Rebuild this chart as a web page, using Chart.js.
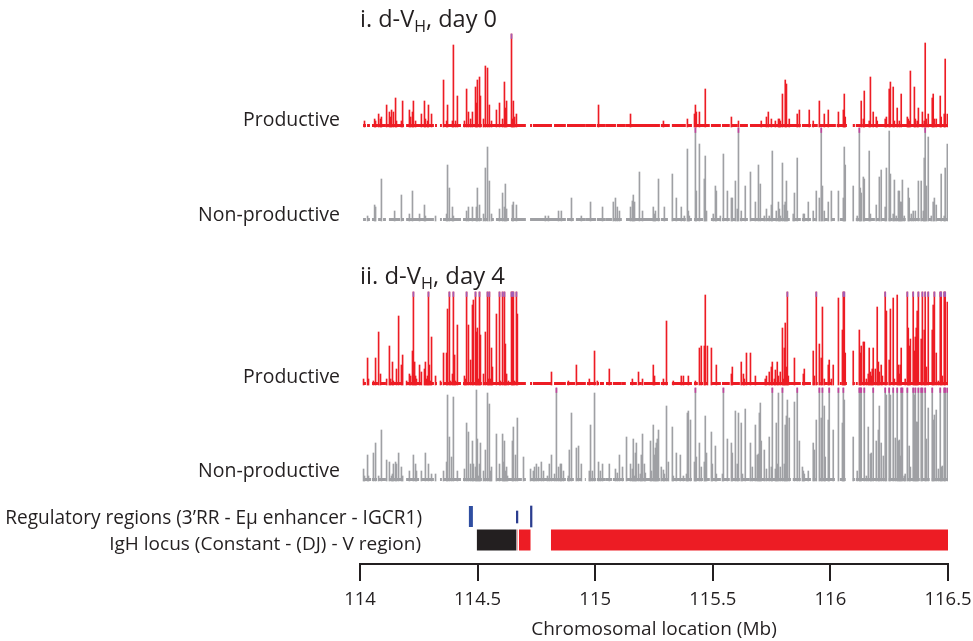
<!DOCTYPE html>
<html>
<head>
<meta charset="utf-8">
<script src="https://cdn.jsdelivr.net/npm/chart.js@4.4.1/dist/chart.umd.min.js"></script>
<style>
  html, body { margin: 0; padding: 0; background: #ffffff; }
  #wrap { position: relative; width: 973px; height: 641px; }
  canvas { display: block; }
</style>
</head>
<body>
<div id="wrap"><canvas id="chart" width="973" height="641"></canvas></div>
<script>
// ---------------- DATA ----------------
// Positions: start of each genomic bin, in kb after 114 Mb (bins of 4.25 kb)
// Values: relative read frequency (track full scale = 93; values >= 93 are off-scale)

const titles = ["i. d-V|H|, day 0", "ii. d-V|H|, day 4"];
const trackLabels = ["Productive", "Non-productive", "Productive", "Non-productive"];
const annotationLabels = ["Regulatory regions (3\u2019RR - E\u03bc enhancer - IGCR1)", "IgH locus (Constant - (DJ) - V region)"];
const axisTitle = "Chromosomal location (Mb)";
const xTicksMb = [114, 114.5, 115, 115.5, 116, 116.5];

// i. day 0, productive
const day0ProdKb = [17,60,64,77,85,89,111,123,128,132,
140,149,153,174,179,208,213,221,225,234,
259,272,276,285,289,302,353,366,370,391,
395,404,412,442,451,459,468,476,489,493,
497,506,510,523,531,540,548,557,578,591,
604,612,616,621,642,646,650,655,663,1012,
1148,
1288,1390,1420,1424,1428,1441,1466,1577,1607,
1704,1726,1734,1747,1764,1777,1781,1785,1794,1806,
1811,1823,1857,1866,1908,1925,1951,1972,1989,2032,
2053,2057,2061,2129,2138,2142,2163,2168,2180,2193,
2197,2231,2236,2248,2253,2265,2270,2282,2291,2299,
2325,2329,2333,2338,2355,2359,2367,2372,2389,2397,
2401,2406,2414,2431,2435,2440,2448,2465,2469,2482,
2486,2495];
const day0ProdVal = [6,8,6,13,8,10,22,15,10,17,
15,29,6,6,26,17,10,15,26,6,
13,26,8,6,22,13,47,6,22,6,
82,6,31,6,38,15,8,15,40,24,
47,50,31,8,61,59,22,6,17,24,
8,45,19,26,100,8,26,10,13,22,
13,
6,8,13,22,15,15,38,10,6,
6,10,15,8,6,8,8,6,33,47,
43,8,13,17,17,6,26,13,17,15,
17,33,10,26,8,36,6,50,15,10,
6,8,10,38,45,40,6,19,6,33,
10,8,6,56,40,8,6,19,15,6,
84,8,13,29,33,8,8,31,10,13,
68,13];

// i. day 0, non-productive
const day0NonKb = [30,60,64,89,145,174,208,221,251,272,
276,319,366,370,378,391,395,451,459,476,
493,497,506,523,531,540,548,557,591,604,
612,616,621,646,650,663,786,799,842,854,
897,939,978,1029,1075,1084,1092,1101,1148,1156,
1160,1165,1186,1199,1245,
1250,1254,1267,1292,1326,1343,1364,1377,1390,1394,
1398,1424,1428,1441,1462,1466,1471,1500,1509,1513,
1530,1543,1560,1577,1581,1594,1602,1607,1619,1636,
1658,1679,1692,1700,1717,1726,1738,1747,1751,1768,
1777,1781,1785,1794,1802,1806,1811,1815,1840,1845,
1857,1883,1887,1904,1925,1938,1951,1959,1964,1972,
1989,2002,2032,2053,2057,2061,2095,2112,2121,2125,
2129,2138,2142,2163,2168,2193,2206,2214,2231,2236,
2248,2253,2265,2270,2278,2287,2291,2295,2299,2304,
2312,2329,2333,2342,2350,2359,2372,2384,2393,2397,
2401,2406,2414,2427,2435,2440,2448,2469,2482,2486,
2495];
const day0NonVal = [5,16,14,42,10,26,7,30,7,16,
5,5,7,56,33,14,5,10,14,14,
14,33,16,7,53,74,40,7,12,28,
14,37,12,16,19,16,5,5,10,10,
23,5,19,14,19,23,14,10,14,20,
26,19,49,10,14,
7,10,42,14,47,23,14,5,72,10,
5,100,30,77,42,65,10,7,35,30,
5,67,30,23,23,40,12,100,10,35,
49,19,56,37,5,12,5,16,70,10,
19,12,5,58,16,19,40,10,7,28,
63,7,7,19,10,30,23,100,35,10,
19,30,30,23,74,56,35,5,100,33,
28,44,42,70,7,16,44,51,14,53,
90,47,7,41,5,30,30,19,19,41,
5,33,23,7,10,10,40,40,10,63,
100,35,84,5,19,23,16,47,5,53,
77];

// ii. day 4, productive
const day4ProdKb = [13,30,34,55,64,77,85,111,123,128,
136,140,153,162,174,179,196,208,213,221,
225,230,234,238,251,259,272,276,281,285,
289,293,298,302,319,340,353,366,370,378,
383,391,395,400,404,412,442,446,451,459,
468,476,480,489,493,497,502,506,510,523,
531,540,544,548,553,557,561,578,591,595,
604,612,616,621,629,642,646,650,655,663,
667,812,884,918,973,995,1007,1058,1156,1182,
1199,1245,
1250,1288,1301,1330,1364,1373,1394,1424,1441,1449,
1462,1466,1475,1492,1513,1577,1581,1619,1628,1632,
1641,1658,1679,1721,1726,1738,1747,1751,1760,1764,
1772,1777,1785,1794,1798,1802,1806,1811,1815,1819,
1845,1883,1887,1925,1930,1938,1951,1959,1964,1972,
1989,1993,2002,2010,2032,2049,2053,2057,2061,2095,
2121,2125,2129,2138,2142,2151,2159,2163,2168,2172,
2176,2180,2189,2197,2202,2206,2214,2219,2231,2236,
2248,2253,2265,2270,2282,2287,2291,2295,2299,2316,
2325,2329,2333,2338,2350,2355,2359,2363,2367,2372,
2384,2389,2397,2401,2406,2414,2431,2435,2440,2448,
2457,2465,2469,2474,2482,2486,2495];
const day4ProdVal = [6,27,6,4,27,53,11,6,39,6,
23,4,16,69,20,30,4,11,9,34,
100,23,9,6,20,13,16,23,6,9,
100,20,4,48,9,4,32,32,76,100,
4,11,100,30,4,60,9,6,100,60,
25,80,85,100,53,57,6,100,50,11,
53,100,6,100,6,37,18,71,100,4,
100,100,41,11,4,100,100,100,4,100,
71,13,4,20,6,34,4,16,6,13,
6,20,
9,6,64,4,9,9,9,4,37,39,
39,90,39,37,20,11,18,23,11,6,
32,32,9,6,9,13,18,23,6,15,
23,9,13,57,6,37,62,18,100,9,
27,11,16,34,9,100,41,27,78,6,
20,25,6,20,87,55,100,100,32,34,
55,32,39,43,43,6,11,37,13,9,
16,37,16,78,23,13,20,9,100,74,
25,76,87,6,90,20,11,20,37,6,
100,57,39,46,100,34,48,57,74,100,
46,100,55,100,18,100,55,80,100,32,
4,100,100,9,100,100,83];

// ii. day 4, non-productive
const day4NonKb = [13,17,30,34,55,64,77,89,111,123,
132,136,140,149,153,162,174,179,208,225,
234,238,259,276,289,302,319,353,366,370,
378,387,395,412,442,451,459,468,476,480,
489,493,497,502,506,510,523,531,540,548,
553,557,578,591,604,608,612,616,621,625,
646,650,659,667,693,723,735,740,748,757,
769,778,795,803,812,825,833,842,850,854,
863,884,888,897,918,927,939,973,978,986,
995,1012,1020,1029,1058,1084,1092,1101,1114,1131,
1148,1156,1160,1165,1169,1173,1182,1190,1194,1199,
1207,1211,1233,1237,1245,1250,
1254,1258,1262,1267,1279,1288,1292,1301,1309,1326,
1330,1343,1360,1373,1386,1390,1394,1403,1420,1424,
1428,1441,1449,1462,1466,1471,1492,1496,1509,1513,
1539,1543,1560,1577,1581,1594,1602,1607,1619,1624,
1636,1658,1666,1679,1687,1692,1696,1700,1704,1717,
1726,1738,1747,1751,1764,1768,1772,1777,1785,1794,
1802,1806,1811,1815,1823,1845,1857,1866,1879,1883,
1887,1904,1925,1930,1938,1951,1959,1964,1972,1976,
1989,1993,2010,2032,2049,2053,2057,2095,2112,2121,
2125,2129,2142,2151,2159,2168,2172,2180,2193,2202,
2206,2214,2223,2231,2236,2248,2253,2265,2274,2282,
2287,2291,2295,2299,2304,2312,2316,2325,2333,2338,
2350,2355,2359,2363,2367,2372,2384,2389,2401,2406,
2414,2431,2435,2440,2448,2457,2465,2469,2474,2482,
2486,2495];
const day4NonVal = [12,5,26,5,28,38,5,51,21,19,
5,7,17,19,17,28,14,5,10,26,
17,10,10,28,17,7,7,10,19,86,
44,24,84,10,12,58,49,17,40,17,
14,91,42,5,17,38,10,31,88,77,
10,14,47,17,47,19,40,10,14,5,
40,54,26,63,24,12,10,14,17,14,
19,10,5,17,26,7,100,14,17,17,
10,5,31,68,33,35,17,10,56,10,
88,19,10,17,17,12,8,26,14,44,
17,12,42,5,28,38,17,7,26,47,
17,8,40,10,56,26,
33,38,42,51,14,11,7,75,19,54,
5,28,26,5,7,68,70,61,19,100,
24,38,14,19,65,28,49,17,35,7,
7,100,42,38,28,70,17,68,58,7,
72,38,14,56,26,27,68,78,40,31,
12,44,14,100,12,58,17,88,14,100,
17,56,65,81,63,79,100,40,14,10,
7,10,38,31,61,100,63,100,75,24,
61,100,51,100,58,100,81,44,10,100,
100,100,100,5,54,27,28,100,40,51,
75,38,25,100,86,100,86,100,43,100,
40,41,25,100,100,5,7,100,35,14,
100,86,100,59,59,100,100,100,100,42,
73,100,61,66,71,12,100,14,15,100,
100,100];

// Low-level background coverage stretches [first bin kb, last bin kb]
const day0ProdFloor = [[13,21],[30,38],[51,72],[77,106],[111,170],[174,183],[196,310],[319,323],[340,344],[353,425],[438,514],[523,701],[723,727],[735,812],[825,871],[880,914],[918,956],[961,999],[1007,1041],[1046,1084],[1092,1126],[1131,1271],[1279,1313],[1326,1381],[1390,1407],[1420,1483],[1492,1530],[1539,1568],[1577,1602],[1615,1645],[1658,1836],[1840,1870],[1879,1913],[1921,1942],[1951,1985],[1989,2019],[2027,2040],[2044,2066],[2095,2100],[2108,2134],[2146,2231],[2240,2496]];
const day0NonFloor = [[13,21],[30,38],[51,60],[77,85],[98,106],[123,166],[174,183],[196,247],[251,310],[319,319],[340,344],[353,425],[438,514],[523,536],[557,565],[578,587],[591,629],[642,701],[723,871],[880,905],[918,956],[961,999],[1007,1041],[1046,1067],[1075,1109],[1131,1271],[1279,1305],[1326,1356],[1360,1381],[1390,1407],[1420,1454],[1492,1530],[1539,1568],[1577,1594],[1615,1645],[1662,1721],[1726,1823],[1840,1870],[1879,1913],[1925,1934],[1972,1985],[2006,2015],[2040,2061],[2108,2121],[2146,2185],[2193,2206],[2214,2231],[2248,2261],[2274,2316],[2333,2376],[2384,2401],[2418,2427],[2448,2496]];
const day4ProdFloor = [[13,21],[51,72],[85,106],[123,170],[196,259],[272,310],[319,323],[340,344],[353,425],[438,514],[523,701],[723,727],[735,765],[769,782],[786,812],[825,871],[880,910],[918,935],[939,956],[965,982],[986,999],[1007,1012],[1020,1033],[1046,1067],[1075,1109],[1114,1126],[1148,1173],[1182,1194],[1207,1220],[1224,1271],[1279,1305],[1326,1339],[1343,1356],[1360,1407],[1420,1432],[1441,1454],[1462,1471],[1492,1530],[1539,1568],[1577,1598],[1602,1611],[1619,1666],[1670,1836],[1840,1870],[1879,1913],[1925,1930],[1938,1942],[1951,1955],[1972,1985],[1993,2002],[2040,2044],[2049,2066],[2095,2100],[2108,2112],[2121,2231],[2236,2240],[2248,2496]];
const day4NonFloor = [[13,43],[51,68],[77,106],[123,170],[196,247],[259,310],[319,319],[340,344],[353,425],[438,514],[523,557],[578,599],[616,638],[642,684],[693,701],[723,829],[833,871],[880,905],[918,939],[956,956],[973,999],[1007,1041],[1046,1067],[1075,1118],[1131,1271],[1279,1305],[1326,1356],[1360,1381],[1386,1407],[1420,1454],[1471,1483],[1492,1530],[1539,1568],[1577,1611],[1619,1653],[1658,1721],[1726,1828],[1840,1870],[1879,1913],[1925,1934],[1955,1985],[1989,2015],[2040,2061],[2095,2100],[2108,2231],[2248,2316],[2325,2376],[2384,2418],[2431,2496]];

// Annotation tracks (Mb)
const regulatoryNames = ["3\u2019RR", "E\u03bc enhancer", "IGCR1"];
const regulatoryStartMb = [114.463, 114.668, 114.728];
const regulatoryEndMb = [114.480, 114.668, 114.728];
const locusNames = ["Constant", "JH", "DJ", "V region"];
const locusStartMb = [114.497, 114.669, 114.676, 114.812];
const locusEndMb = [114.665, 114.672, 114.725, 116.5];

// ---------------- STYLE / LAYOUT ----------------
const FONT = '"Open Sans", "Noto Sans", "DejaVu Sans", sans-serif';
const INK = '#231f20';
const RED = '#ed1c24';
const GREY = '#9fa0a4';
const CAP_RED = '#a35cb5';
const CAP_GREY = '#c2449e';
const TRACK_MAX = 93;
const BIN_KB = 4.25;
const CAP_H = 4.5;
const FLOOR_H = 3;
// baseline of each track on the (hidden) vertical layout axis
const trackBase = [437, 343, 179, 83];
const trackColor = [RED, GREY, RED, GREY];
const trackCap = [CAP_RED, CAP_GREY, CAP_RED, CAP_GREY];
const locusY = 24, locusH = 21;
const regLow = [37, 41, 37], regHigh = [58, 53, 58];
const locusColors = [INK, '#f47b7e', RED, RED];

const trackKb = [day0ProdKb, day0NonKb, day4ProdKb, day4NonKb];
const trackVal = [day0ProdVal, day0NonVal, day4ProdVal, day4NonVal];
const trackFloor = [day0ProdFloor, day0NonFloor, day4ProdFloor, day4NonFloor];

const kbToMb = kb => 114 + kb / 1000;

const datasets = [];
for (let t = 0; t < 4; t++) {
  const base = trackBase[t];
  const kbs = trackKb[t], vals = trackVal[t];
  datasets.push({
    type: 'bar', order: 1, grouped: false, barThickness: 1,
    backgroundColor: trackColor[t], borderWidth: 0,
    data: kbs.map((k, i) => ({ x: kbToMb(k + BIN_KB / 2), y: [base, base + Math.min(vals[i], TRACK_MAX)] }))
  });
  const capData = [];
  kbs.forEach((k, i) => {
    if (vals[i] >= TRACK_MAX) capData.push({ x: kbToMb(k + BIN_KB / 2), y: [base + TRACK_MAX - CAP_H, base + TRACK_MAX] });
  });
  datasets.push({
    type: 'bar', order: 0, grouped: false, barThickness: 1,
    backgroundColor: trackCap[t], borderWidth: 0, data: capData
  });
  const floorData = [];
  trackFloor[t].forEach(([a, b]) => {
    floorData.push({ x: kbToMb(a), y: base + FLOOR_H / 2 });
    floorData.push({ x: kbToMb(b + BIN_KB), y: base + FLOOR_H / 2 });
    floorData.push({ x: kbToMb(b + BIN_KB) + 0.000001, y: null });
  });
  datasets.push({
    type: 'line', order: 2, data: floorData, borderColor: trackColor[t],
    borderWidth: FLOOR_H, pointRadius: 0, spanGaps: false, tension: 0,
    borderCapStyle: 'butt', fill: false
  });
}
// IgH locus blocks
locusStartMb.forEach((s, i) => {
  datasets.push({
    type: 'line', order: 3, borderColor: locusColors[i], borderWidth: locusH,
    borderCapStyle: 'butt', pointRadius: 0, fill: false,
    data: [{ x: s, y: locusY }, { x: locusEndMb[i], y: locusY }]
  });
});
// Regulatory regions
datasets.push({
  type: 'line', order: 3, borderColor: '#2f4ea1', borderWidth: regHigh[0] - regLow[0],
  borderCapStyle: 'butt', pointRadius: 0, fill: false,
  data: [{ x: regulatoryStartMb[0], y: (regLow[0] + regHigh[0]) / 2 }, { x: regulatoryEndMb[0], y: (regLow[0] + regHigh[0]) / 2 }]
});
datasets.push({
  type: 'bar', order: 3, grouped: false, barThickness: 1.6, backgroundColor: '#2b3d8f', borderWidth: 0,
  data: [1, 2].map(i => ({ x: regulatoryStartMb[i], y: [regLow[i], regHigh[i]] }))
});

function drawTitle(ctx, spec, x, y, target) {
  const parts = spec.split('|');
  ctx.font = `100px ${FONT}`;
  const w0 = ctx.measureText(parts[0]).width, w2 = ctx.measureText(parts[2]).width;
  const wS = ctx.measureText(parts[1]).width * 0.68;
  const size = 100 * target / (w0 + wS + w2);
  ctx.textAlign = 'left';
  ctx.textBaseline = 'alphabetic';
  ctx.font = `${size}px ${FONT}`;
  ctx.fillText(parts[0], x, y);
  let cx = x + ctx.measureText(parts[0]).width;
  ctx.font = `${size * 0.68}px ${FONT}`;
  ctx.fillText(parts[1], cx, y + size * 0.2);
  cx += ctx.measureText(parts[1]).width;
  ctx.font = `${size}px ${FONT}`;
  ctx.fillText(parts[2], cx, y);
}
function drawFit(ctx, text, xRight, y, target) {
  ctx.font = `100px ${FONT}`;
  const size = 100 * target / ctx.measureText(text).width;
  ctx.font = `${size}px ${FONT}`;
  ctx.textAlign = 'right';
  ctx.textBaseline = 'alphabetic';
  ctx.fillText(text, xRight, y);
}

const labelPlugin = {
  id: 'labels',
  afterDraw(chart) {
    const ctx = chart.ctx;
    const ys = chart.scales.y;
    ctx.save();
    ctx.fillStyle = INK;
    const left = chart.chartArea.left;
    drawTitle(ctx, titles[0], left, ys.getPixelForValue(trackBase[0] + TRACK_MAX) - 7, 137);
    drawTitle(ctx, titles[1], left, ys.getPixelForValue(trackBase[2] + TRACK_MAX) - 8, 145);
    const lw = [97, 142, 97, 142];
    const off = [-1, 0, -2, -4];
    for (let t = 0; t < 4; t++) {
      drawFit(ctx, trackLabels[t], left - 20, ys.getPixelForValue(trackBase[t]) + off[t], lw[t]);
    }
    drawFit(ctx, annotationLabels[0], 422, ys.getPixelForValue((regLow[0] + regHigh[0]) / 2) + 7, 417);
    drawFit(ctx, annotationLabels[1], 421, ys.getPixelForValue(locusY) + 10, 312);
    ctx.restore();
  }
};

new Chart(document.getElementById('chart'), {
  type: 'bar',
  data: { datasets },
  options: {
    responsive: false,
    devicePixelRatio: 1,
    animation: false,
    events: [],
    layout: { padding: { left: 360, right: 25, top: 33, bottom: 0 } },
    plugins: { legend: { display: false }, tooltip: { enabled: false } },
    scales: {
      x: {
        type: 'linear', min: xTicksMb[0], max: xTicksMb[xTicksMb.length - 1], offset: false,
        afterBuildTicks: s => { s.ticks = xTicksMb.map(v => ({ value: v })); },
        afterFit: s => { s.height = 77; s.paddingLeft = 0; s.paddingRight = 0; },
        ticks: { font: { family: FONT, size: 18.5 }, color: INK, padding: 8, maxRotation: 0, autoSkip: false,
                 callback: v => String(v) },
        grid: { display: true, drawOnChartArea: false, drawTicks: true, tickLength: 17, color: INK, lineWidth: 2, offset: false },
        border: { display: true, color: INK, width: 2 },
        title: { display: true, text: axisTitle, font: { family: FONT, size: 19 }, color: INK, padding: { top: 0, bottom: 0 } }
      },
      y: { display: false, min: 0, max: 531 }
    }
  },
  plugins: [labelPlugin]
});
</script>
</body>
</html>
